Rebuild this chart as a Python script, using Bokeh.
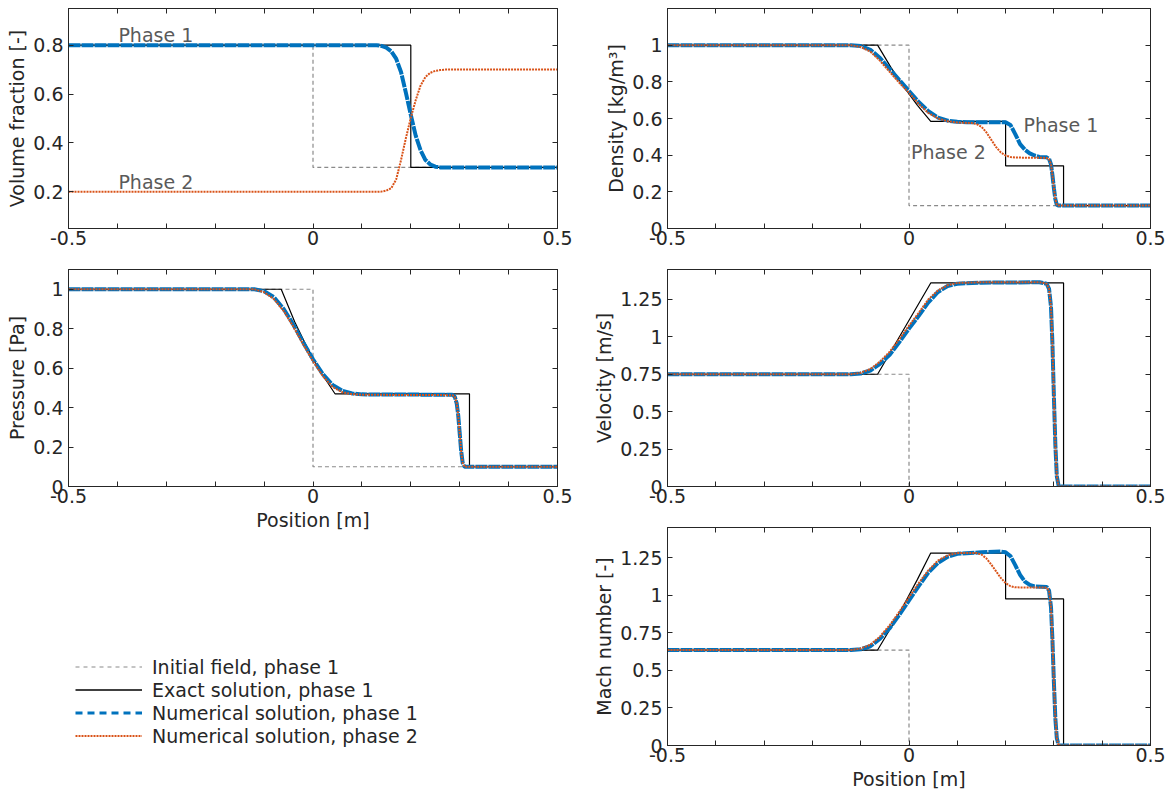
from bokeh.plotting import figure
from bokeh.models import (Range1d, LinearAxis, FixedTicker, PrintfTickFormatter,
                          CustomJSTickFormatter, Label, Legend, LegendItem)
from bokeh.layouts import row, column
from bokeh.embed import file_html
from bokeh.resources import INLINE

# ---------------- data ----------------
x_major = [-0.5, 0.0, 0.5]
x_minor = [-0.4, -0.3, -0.2, -0.1, 0.1, 0.2, 0.3, 0.4]

x_init = [-0.5, 0.0, 0.0, 0.5]

# Volume fraction
vf_ticks = [0.2, 0.4, 0.6, 0.8]
vf_init = [0.8, 0.8, 0.3, 0.3]
vf_exact_x = [-0.5, 0.2, 0.2, 0.5]
vf_exact = [0.8, 0.8, 0.3, 0.3]
vf_num_x1 = [-0.5, 0.13, 0.14, 0.15, 0.16, 0.17, 0.18, 0.19, 0.2, 0.21, 0.22, 0.23, 0.24, 0.25, 0.26, 0.5]
vf_num1 = [0.8, 0.8, 0.797, 0.79, 0.775, 0.745, 0.69, 0.605, 0.515, 0.43, 0.37, 0.33, 0.312, 0.303, 0.3, 0.3]
vf_num_x2 = [-0.5, 0.13, 0.14, 0.15, 0.16, 0.17, 0.18, 0.19, 0.2, 0.21, 0.22, 0.23, 0.24, 0.25, 0.26, 0.27, 0.5]
vf_num2 = [0.2, 0.2, 0.201, 0.205, 0.215, 0.25, 0.33, 0.42, 0.503, 0.575, 0.635, 0.67, 0.687, 0.695, 0.698, 0.7, 0.7]

# Density
rho_ticks = [0.0, 0.2, 0.4, 0.6, 0.8, 1.0]
rho_init = [1.0, 1.0, 0.125, 0.125]
rho_exact_x = [-0.5, -0.065, -0.0375, -0.01, 0.0175, 0.045, 0.2, 0.2, 0.32, 0.32, 0.5]
rho_exact = [1.0, 1.0, 0.879, 0.77, 0.672, 0.584, 0.584, 0.342, 0.342, 0.125, 0.125]
rho_num_x1 = [-0.5, -0.12, -0.1, -0.08, -0.06, -0.04, -0.02, 0.0, 0.02, 0.04, 0.06, 0.08, 0.1, 0.12,
              0.2, 0.21, 0.22, 0.23, 0.24, 0.25, 0.26, 0.27, 0.285, 0.29, 0.294, 0.297, 0.3, 0.303,
              0.306, 0.31, 0.5]
rho_num1 = [1.0, 1.0, 0.995, 0.975, 0.93, 0.87, 0.81, 0.75, 0.69, 0.64, 0.605, 0.588, 0.582, 0.58,
            0.58, 0.565, 0.515, 0.46, 0.43, 0.41, 0.398, 0.39, 0.388, 0.38, 0.35, 0.29, 0.22, 0.16,
            0.13, 0.125, 0.125]
rho_num_x2 = [-0.5, -0.12, -0.1, -0.08, -0.06, -0.04, -0.02, 0.0, 0.02, 0.04, 0.06, 0.08, 0.1, 0.13,
              0.14, 0.15, 0.16, 0.17, 0.18, 0.19, 0.2, 0.21, 0.22, 0.285, 0.29, 0.294, 0.297, 0.3,
              0.303, 0.306, 0.31, 0.5]
rho_num2 = [1.0, 1.0, 0.99, 0.965, 0.915, 0.855, 0.795, 0.74, 0.68, 0.63, 0.6, 0.585, 0.578, 0.575,
            0.57, 0.555, 0.525, 0.485, 0.445, 0.415, 0.398, 0.39, 0.387, 0.385, 0.378, 0.35, 0.29,
            0.22, 0.16, 0.13, 0.125, 0.125]

# Pressure
p_ticks = [0.0, 0.2, 0.4, 0.6, 0.8, 1.0]
p_init = [1.0, 1.0, 0.1, 0.1]
p_exact_x = [-0.5, -0.065, -0.0375, -0.01, 0.0175, 0.045, 0.32, 0.32, 0.5]
p_exact = [1.0, 1.0, 0.835, 0.694, 0.573, 0.47, 0.47, 0.1, 0.1]
p_num_x = [-0.5, -0.12, -0.1, -0.08, -0.06, -0.04, -0.02, 0.0, 0.02, 0.04, 0.06, 0.08, 0.1,
           0.285, 0.29, 0.294, 0.297, 0.3, 0.303, 0.306, 0.31, 0.5]
p_num1 = [1.0, 1.0, 0.99, 0.96, 0.9, 0.82, 0.73, 0.645, 0.57, 0.515, 0.485, 0.472, 0.467,
          0.465, 0.455, 0.42, 0.36, 0.27, 0.18, 0.12, 0.1, 0.1]
p_num2 = [1.0, 1.0, 0.985, 0.95, 0.89, 0.81, 0.72, 0.635, 0.56, 0.505, 0.478, 0.468, 0.465,
          0.463, 0.455, 0.42, 0.36, 0.27, 0.18, 0.12, 0.1, 0.1]

# Velocity
u_ticks = [0.0, 0.25, 0.5, 0.75, 1.0, 1.25]
u_init = [0.75, 0.75, 0.0, 0.0]
u_exact_x = [-0.5, -0.065, 0.045, 0.32, 0.32, 0.5]
u_exact = [0.75, 0.75, 1.36, 1.36, 0.0, 0.0]
u_num_x = [-0.5, -0.12, -0.1, -0.08, -0.06, -0.04, -0.02, 0.0, 0.02, 0.04, 0.06, 0.08, 0.1, 0.15,
           0.27, 0.285, 0.29, 0.294, 0.297, 0.3, 0.303, 0.306, 0.31, 0.5]
u_num1 = [0.75, 0.75, 0.755, 0.775, 0.82, 0.88, 0.965, 1.055, 1.14, 1.23, 1.3, 1.34, 1.355, 1.362,
          1.365, 1.355, 1.32, 1.2, 0.95, 0.6, 0.28, 0.07, 0.0, 0.0]
u_num2 = [0.75, 0.75, 0.76, 0.785, 0.835, 0.9, 0.985, 1.075, 1.16, 1.25, 1.31, 1.345, 1.36, 1.365,
          1.365, 1.355, 1.32, 1.2, 0.95, 0.6, 0.28, 0.07, 0.0, 0.0]

# Mach number
m_ticks = [0.0, 0.25, 0.5, 0.75, 1.0, 1.25]
m_init = [0.635, 0.635, 0.0, 0.0]
m_exact_x = [-0.5, -0.065, -0.0375, -0.01, 0.0175, 0.045, 0.2, 0.2, 0.32, 0.32, 0.5]
m_exact = [0.635, 0.635, 0.783, 0.94, 1.105, 1.28, 1.28, 0.975, 0.975, 0.0, 0.0]
m_num_x1 = [-0.5, -0.12, -0.1, -0.08, -0.06, -0.04, -0.02, 0.0, 0.02, 0.04, 0.06, 0.08, 0.1, 0.15,
            0.19, 0.2, 0.21, 0.22, 0.23, 0.24, 0.25, 0.26, 0.285, 0.29, 0.294, 0.297, 0.3, 0.303,
            0.306, 0.31, 0.5]
m_num1 = [0.635, 0.635, 0.64, 0.66, 0.71, 0.78, 0.87, 0.965, 1.06, 1.15, 1.215, 1.255, 1.275, 1.285,
          1.29, 1.285, 1.26, 1.2, 1.135, 1.09, 1.068, 1.058, 1.055, 1.03, 0.92, 0.7, 0.42, 0.18,
          0.05, 0.0, 0.0]
m_num_x2 = [-0.5, -0.12, -0.1, -0.08, -0.06, -0.04, -0.02, 0.0, 0.02, 0.04, 0.06, 0.08, 0.1, 0.14,
            0.15, 0.16, 0.17, 0.18, 0.19, 0.2, 0.21, 0.22, 0.285, 0.29, 0.294, 0.297, 0.3, 0.303,
            0.306, 0.31, 0.5]
m_num2 = [0.635, 0.635, 0.645, 0.67, 0.725, 0.8, 0.89, 0.985, 1.08, 1.165, 1.23, 1.265, 1.28, 1.28,
          1.27, 1.245, 1.205, 1.16, 1.115, 1.08, 1.06, 1.052, 1.05, 1.03, 0.92, 0.7, 0.42, 0.18,
          0.05, 0.0, 0.0]

legend_labels = ["Initial field, phase 1", "Exact solution, phase 1",
                 "Numerical solution, phase 1", "Numerical solution, phase 2"]

# ---------------- styling ----------------
FONT = "DejaVu Sans"
TXT = "#262626"
BLUE = "#0072BD"
ORANGE = "#D95319"
GRAY = "#8a8a8a"
ANN = "#5a5a5a"
TICK_FS = "19px"
LAB_FS = "19px"
NAN = float("nan")


def style_axis(ax, ticker, show_labels=True, label_standoff=5, axis_label_standoff=5):
    ax.ticker = ticker
    ax.major_tick_in = 5
    ax.major_tick_out = 0
    ax.minor_tick_in = 5
    ax.minor_tick_out = 0
    ax.axis_line_color = TXT
    ax.major_tick_line_color = TXT
    ax.minor_tick_line_color = TXT
    ax.major_label_text_font = FONT
    ax.major_label_text_color = TXT
    ax.axis_label_text_font = FONT
    ax.axis_label_text_font_style = "normal"
    ax.axis_label_text_font_size = LAB_FS
    ax.axis_label_text_color = TXT
    if show_labels:
        ax.formatter = PrintfTickFormatter(format="%g")
        ax.major_label_text_font_size = TICK_FS
        ax.major_label_standoff = label_standoff
        ax.axis_label_standoff = axis_label_standoff
    else:
        ax.formatter = CustomJSTickFormatter(code="return ''")
        ax.major_label_text_font_size = "0px"
        ax.major_label_standoff = 0


def panel(w, h, borders, yr, yticks, ylabel, xlabel=None, xlab_standoff=3):
    l, r, t, b = borders
    p = figure(width=w, height=h, x_range=Range1d(-0.5, 0.5), y_range=Range1d(*yr),
               output_backend="svg", toolbar_location=None, tools="",
               min_border_left=l, min_border_right=r, min_border_top=t, min_border_bottom=b)
    p.xgrid.visible = False
    p.ygrid.visible = False
    p.outline_line_color = TXT
    p.background_fill_color = "white"
    p.border_fill_color = "white"
    xt = FixedTicker(ticks=x_major, minor_ticks=x_minor)
    yt = FixedTicker(ticks=yticks, minor_ticks=[])
    style_axis(p.xaxis[0], xt, True, 2, xlab_standoff)
    style_axis(p.yaxis[0], yt, True, 5, 2)
    p.yaxis[0].axis_label = ylabel
    if xlabel:
        p.xaxis[0].axis_label = xlabel
    top = LinearAxis()
    style_axis(top, xt, False)
    p.add_layout(top, "above")
    right = LinearAxis()
    style_axis(right, yt, False)
    p.add_layout(right, "right")
    return p


def draw(p, ix, iy, ex, ey, n1x, n1y, n2x, n2y):
    p.line(ix, iy, line_color=GRAY, line_width=1.2, line_dash="4 3")
    p.line(ex, ey, line_color="black", line_width=1.2)
    p.line(n1x, n1y, line_color=BLUE, line_width=4, line_dash="12 1")
    p.line(n2x, n2y, line_color=ORANGE, line_width=2, line_dash="2 1")


def ann(p, x, y, text):
    p.add_layout(Label(x=x, y=y, text=text, text_font=FONT, text_font_size=LAB_FS,
                       text_color=ANN, text_baseline="middle", text_align="left"))


LW, RW = 590, 583

p1 = panel(LW, 253, (68, 33, 8, 25), (0.05, 0.95), vf_ticks, "Volume fraction [-]")
draw(p1, x_init, vf_init, vf_exact_x, vf_exact, vf_num_x1, vf_num1, vf_num_x2, vf_num2)
ann(p1, -0.398, 0.84, "Phase 1")
ann(p1, -0.398, 0.242, "Phase 2")

p2 = panel(RW, 253, (74, 23, 8, 25), (0.0, 1.2), rho_ticks, "Density [kg/m³]")
draw(p2, x_init, rho_init, rho_exact_x, rho_exact, rho_num_x1, rho_num1, rho_num_x2, rho_num2)
ann(p2, 0.237, 0.565, "Phase 1")
ann(p2, 0.004, 0.415, "Phase 2")

p3 = panel(LW, 287, (68, 33, 16, 54), (0.0, 1.1), p_ticks, "Pressure [Pa]",
           xlabel="Position [m]", xlab_standoff=3)
draw(p3, x_init, p_init, p_exact_x, p_exact, p_num_x, p_num1, p_num_x, p_num2)

p4 = panel(RW, 258, (74, 23, 16, 25), (0.0, 1.45), u_ticks, "Velocity [m/s]")
draw(p4, x_init, u_init, u_exact_x, u_exact, u_num_x, u_num1, u_num_x, u_num2)

p5 = panel(RW, 284, (74, 23, 16, 50), (0.0, 1.45), m_ticks, "Mach number [-]",
           xlabel="Position [m]", xlab_standoff=3)
draw(p5, x_init, m_init, m_exact_x, m_exact, m_num_x1, m_num1, m_num_x2, m_num2)

# legend panel (dummy renderers carry only the styles shown in the key)
pl = figure(width=LW, height=255, x_range=Range1d(0, 1), y_range=Range1d(0, 1),
            output_backend="svg", toolbar_location=None, tools="",
            x_axis_type=None, y_axis_type=None, min_border=0,
            min_border_left=0, min_border_right=0, min_border_top=0, min_border_bottom=0)
pl.grid.visible = False
pl.outline_line_color = None
r_init = pl.line([NAN, NAN], [NAN, NAN], line_color=GRAY, line_width=1.2, line_dash="4 4")
r_exact = pl.line([NAN, NAN], [NAN, NAN], line_color="black", line_width=1.5)
r_n1 = pl.line([NAN, NAN], [NAN, NAN], line_color=BLUE, line_width=3, line_dash="7 5")
r_n2 = pl.line([NAN, NAN], [NAN, NAN], line_color=ORANGE, line_width=2, line_dash="2 1")
legend = Legend(items=[LegendItem(label=lab, renderers=[r]) for lab, r in
                       zip(legend_labels, [r_init, r_exact, r_n1, r_n2])],
                location=(7, 48), orientation="vertical",
                glyph_width=67, glyph_height=23, label_height=23, label_standoff=10,
                spacing=0, padding=0, margin=0,
                border_line_color=None, background_fill_alpha=0,
                label_text_font=FONT, label_text_font_size=LAB_FS, label_text_color=TXT)
pl.add_layout(legend)

layout = row(column(p1, p3, pl), column(p2, p4, p5))

open("out.html", "w").write(file_html(layout, INLINE))
